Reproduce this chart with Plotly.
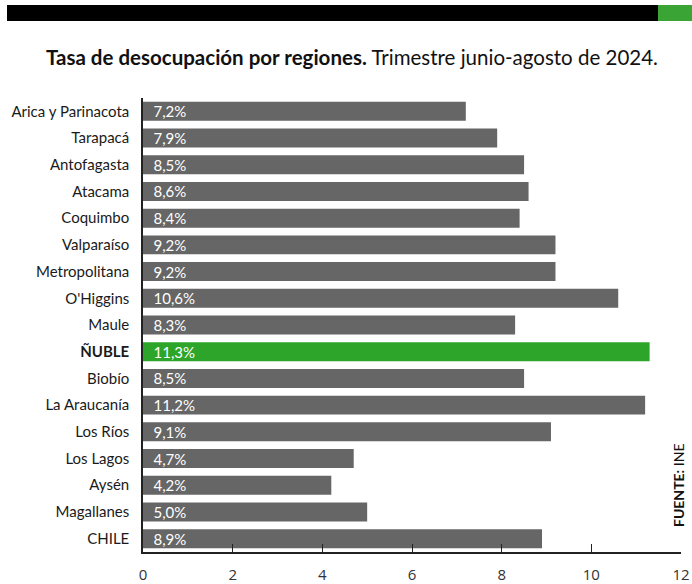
import plotly.graph_objects as go

regions = ["Arica y Parinacota", "Tarapacá", "Antofagasta", "Atacama", "Coquimbo",
           "Valparaíso", "Metropolitana", "O'Higgins", "Maule", "ÑUBLE", "Biobío",
           "La Araucanía", "Los Ríos", "Los Lagos", "Aysén", "Magallanes", "CHILE"]
values = [7.2, 7.9, 8.5, 8.6, 8.4, 9.2, 9.2, 10.6, 8.3, 11.3, 8.5, 11.2, 9.1, 4.7, 4.2, 5.0, 8.9]
highlight = "ÑUBLE"
tick_vals = [0, 2, 4, 6, 8, 10, 12]

GREY = "#666666"
GREEN = "#2ca52a"

colors = [GREEN if r == highlight else GREY for r in regions]
labels = ["\u2002" + f"{v:.1f}%".replace(".", ",") for v in values]
ticktext = [f"<b>{r}</b>" if r == highlight else r for r in regions]

W, H = 692, 584
ML, MR, MT, MB = 143, 11, 98, 32
pw, ph = W - ML - MR, H - MT - MB

def px(x):
    return (x - ML) / pw

def py(y):
    return (H - MB - y) / ph

fig = go.Figure(go.Bar(
    x=values, y=regions, orientation="h",
    marker=dict(color=colors, line=dict(width=0)),
    text=labels, textposition="inside", insidetextanchor="start",
    textfont=dict(family="Lato", size=15, color="white"),
    constraintext="none", cliponaxis=False, hoverinfo="skip",
))

fig.update_layout(
    width=W, height=H,
    margin=dict(l=ML, r=MR, t=MT, b=MB, autoexpand=False),
    paper_bgcolor="white", plot_bgcolor="white",
    bargap=0.29,
    showlegend=False,
    font=dict(family="Lato", color="#222"),
    xaxis=dict(range=[0, 12], tickvals=tick_vals, showgrid=False, zeroline=False,
               showline=True, linecolor="#222", linewidth=1.5,
               ticks="inside", ticklen=8, tickcolor="#222", ticklabelstandoff=8,
               tickfont=dict(family="Open Sans", size=15, color="#333")),
    yaxis=dict(categoryorder="array", categoryarray=regions, autorange="reversed",
               tickvals=regions, ticktext=ticktext,
               showgrid=False, zeroline=False, showline=True, linecolor="#222",
               linewidth=1.5, ticks="", ticklabelstandoff=9,
               tickfont=dict(family="Lato", size=15, color="#1a1a1a")),
    shapes=[
        dict(type="rect", xref="paper", yref="paper", x0=px(7), x1=px(658),
             y0=py(21), y1=py(5), fillcolor="black", line=dict(width=0)),
        dict(type="rect", xref="paper", yref="paper", x0=px(658), x1=px(692),
             y0=py(21), y1=py(5), fillcolor="#3aa535", line=dict(width=0)),
    ],
    annotations=[
        dict(xref="paper", yref="paper", x=px(352), y=py(57), showarrow=False,
             xanchor="center", yanchor="middle",
             text="<b>Tasa de desocupación por regiones.</b> Trimestre junio-agosto de 2024.",
             font=dict(family="Lato", size=20.5, color="#111")),
        dict(xref="paper", yref="paper", x=px(678), y=py(485), showarrow=False,
             xanchor="center", yanchor="middle", textangle=-90,
             text="<b>FUENTE:</b> INE",
             font=dict(family="Lato", size=14, color="#111")),
    ],
)

fig.write_html("out.html", config={"displayModeBar": False},
               post_script="document.body.style.margin='0';document.body.style.padding='0';")
